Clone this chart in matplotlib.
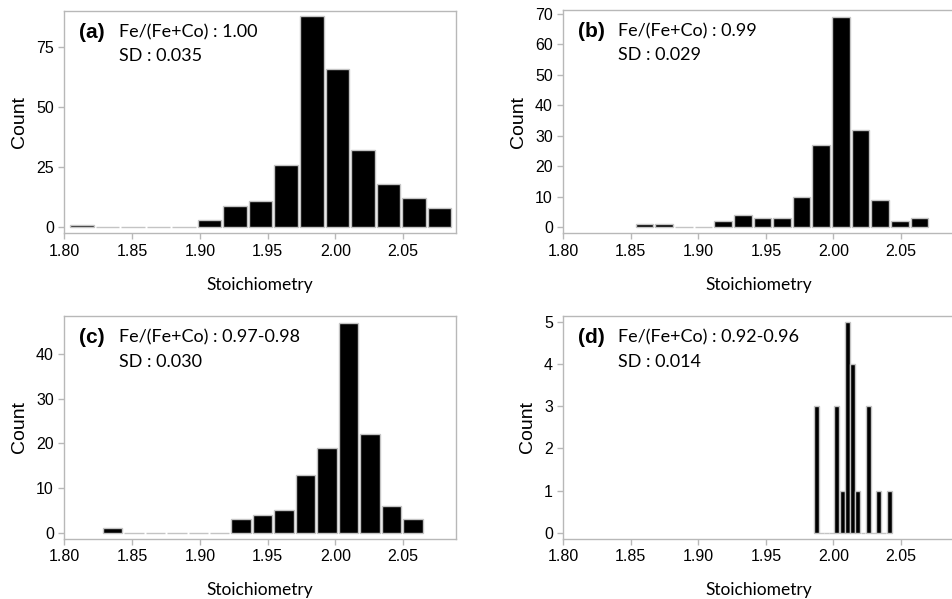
import numpy as np
import matplotlib
matplotlib.use('Agg')
import matplotlib.pyplot as plt

# -------------------------------------------
# Histogram data (bin start, bin width, counts)
# -------------------------------------------
labels = ['(a)', '(b)', '(c)', '(d)']
ratios = ['1.00', '0.99', '0.97-0.98', '0.92-0.96']
sds = ['0.035', '0.029', '0.030', '0.014']

bin_start = [1.8042, 1.8536, 1.8283, 1.9853]
bin_width = [0.01886, 0.01454, 0.01584, 0.00386]

counts_a = [1, 0, 0, 0, 0, 3, 9, 11, 26, 88, 66, 32, 18, 12, 8]
counts_b = [1, 1, 0, 0, 2, 4, 3, 3, 10, 27, 69, 32, 9, 2, 3]
counts_c = [1, 0, 0, 0, 0, 0, 3, 4, 5, 13, 19, 47, 22, 6, 3]
counts_d = [3, 0, 0, 0, 3, 1, 5, 4, 1, 0, 3, 0, 1, 0, 1]
all_counts = [counts_a, counts_b, counts_c, counts_d]

yticks = [[0, 25, 50, 75], list(range(0, 71, 10)), list(range(0, 41, 10)), list(range(0, 6))]
ylims = [(-2.5, 90.1), (-2.0, 71.3), (-1.34, 48.6), (-0.14, 5.14)]
xticks = [1.80, 1.85, 1.90, 1.95, 2.00, 2.05]

# axes rectangles in pixels (left, bottom, right, top)
W, H = 953, 599
boxes = [
    (64.3, 233.3, 456.0, 11.0),
    (563.3, 233.3, 953.7, 10.0),
    (64.3, 538.7, 456.0, 315.7),
    (563.3, 538.7, 953.7, 315.7),
]
bar_gap_px = [2.0, 2.0, 2.0, 0.3]

SPINE = '#b8b8b8'
EDGE = '#c4c4c4'
LABEL_FONT = ['Lato', 'DejaVu Sans']
ARIAL = ['Liberation Sans', 'DejaVu Sans']

fig = plt.figure(figsize=(W / 100, H / 100), dpi=100)

for i in range(4):
    x0, yb, x1, yt = boxes[i]
    ax = fig.add_axes([x0 / W, 1 - yb / H, (x1 - x0) / W, (yb - yt) / H])

    counts = np.array(all_counts[i])
    edges = bin_start[i] + bin_width[i] * np.arange(len(counts))
    px_per_unit = (x1 - x0) / (2.089 - 1.80)
    w = bin_width[i] - bar_gap_px[i] / px_per_unit
    ax.bar(edges, counts, width=w, align='edge', color='black',
           edgecolor=EDGE, linewidth=1.0)

    ax.set_xlim(1.80, 2.089)
    ax.set_ylim(*ylims[i])
    ax.set_xticks(xticks)
    ax.set_xticklabels([f'{t:.2f}' for t in xticks], family=ARIAL, fontsize=11.5)
    ax.set_yticks(yticks[i])
    ax.set_yticklabels([str(t) for t in yticks[i]], family=ARIAL, fontsize=11.5)
    ax.tick_params(direction='out', length=4, width=1, color=SPINE, pad=3.5)
    for s in ax.spines.values():
        s.set_color(SPINE)
        s.set_linewidth(1.0)

    ax.set_ylabel('Count', family=ARIAL, fontsize=14, labelpad=6)
    ax.set_xlabel('Stoichiometry', family=LABEL_FONT, fontsize=12.5, labelpad=13)

    ytop = 0.9055 if i < 2 else 0.903
    ybot = 0.7986 if i < 2 else 0.794
    ax.text(0.037, ytop, labels[i], transform=ax.transAxes, family=ARIAL,
            fontweight='bold', fontsize=15, va='center', ha='left')
    ax.text(0.1405, ytop, f'Fe/(Fe+Co) : {ratios[i]}', transform=ax.transAxes,
            family=LABEL_FONT, fontsize=13, va='center', ha='left')
    ax.text(0.1405, ybot, f'SD : {sds[i]}', transform=ax.transAxes,
            family=LABEL_FONT, fontsize=13, va='center', ha='left')

fig.savefig('out.png', dpi=100)
